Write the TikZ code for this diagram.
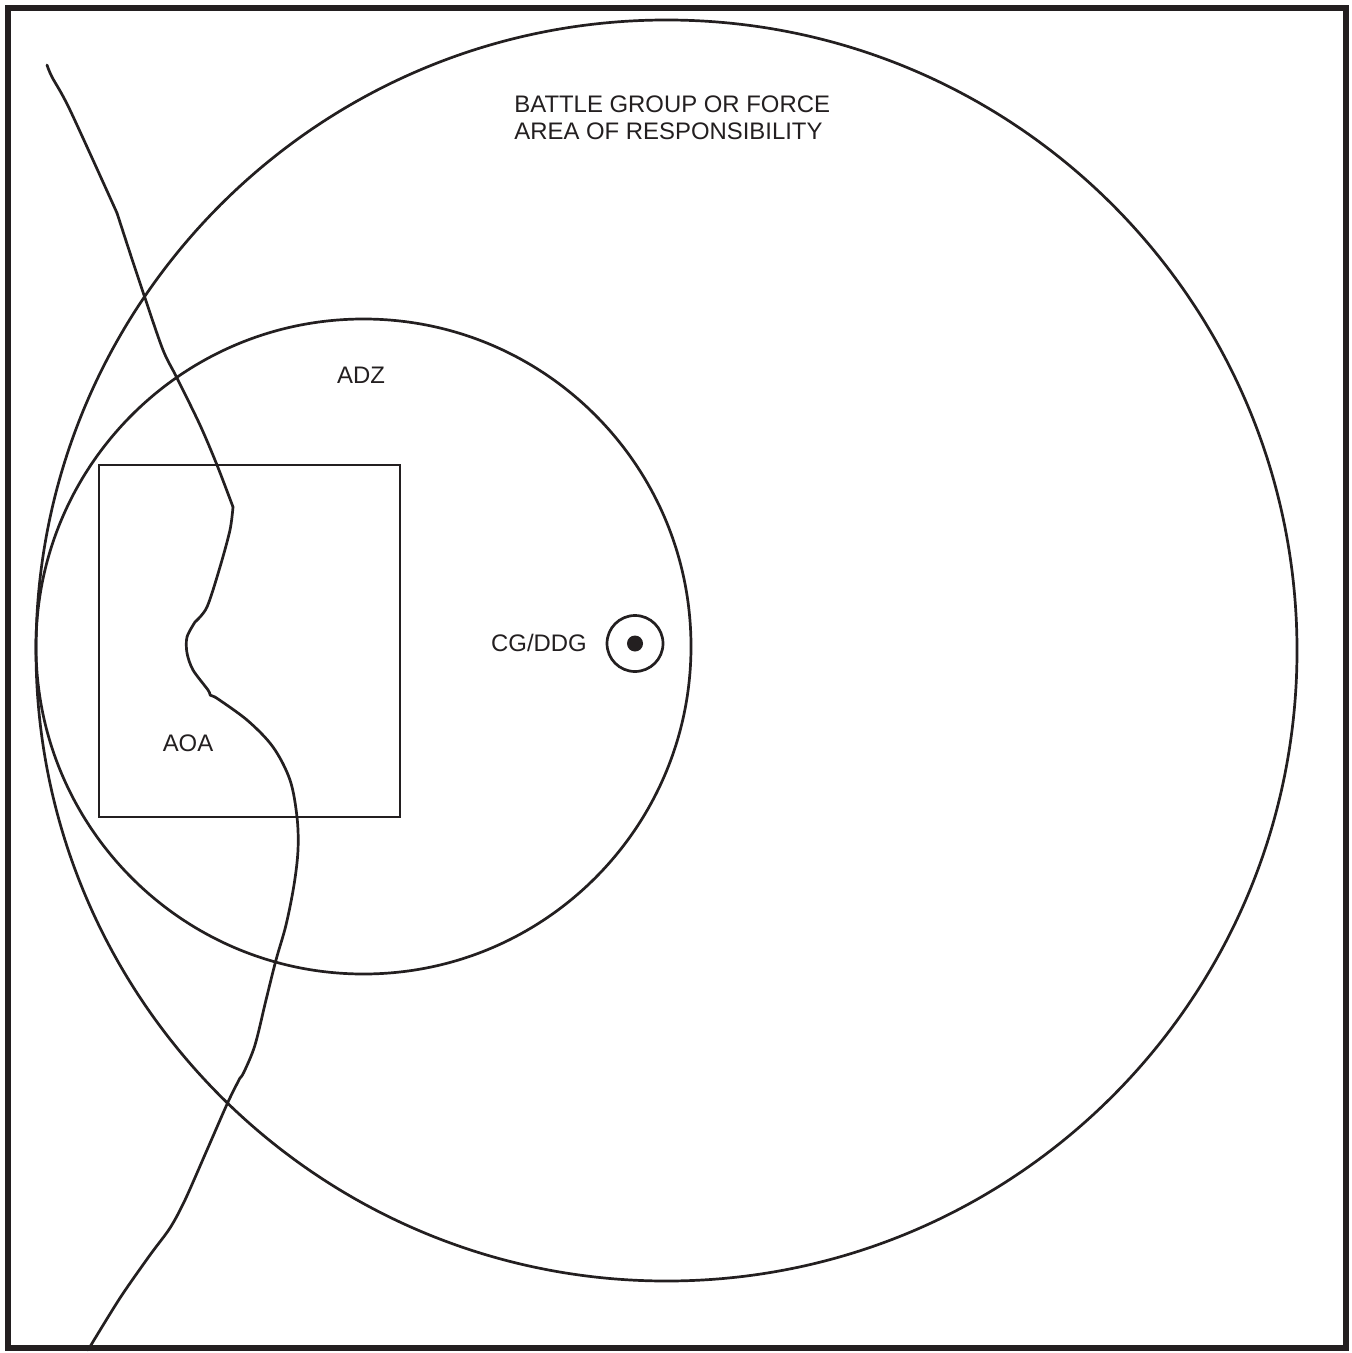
\documentclass[tikz,border=0pt]{standalone}
\usepackage{fontspec}
\setmainfont{Liberation Sans}
\definecolor{ink}{HTML}{231F20}
\begin{document}
\begin{tikzpicture}[x=0.5pt,y=-0.5pt,
  line/.style={draw=ink,line width=1.35pt},
  lbl/.style={inner sep=0pt,text=ink,font=\fontsize{11.95}{13.5}\selectfont},
  coast/.style={draw=ink,line width=1.35pt,line join=round,line cap=round}]
\useasboundingbox (0,0) rectangle (1351,1353);
\fill[white] (0,0) rectangle (1351,1353);
% frame
\draw[draw=ink,line width=2.6pt] (8,8) rectangle (1346,1348);
% circles
\draw[line] (666.5,650.5) circle[radius=630.5];
\draw[line] (363.5,646.5) circle[radius=327.5];
% AOA box
\draw[line] (99,465) rectangle (400,817);
% coastline
\draw[coast] plot[smooth,tension=0.5] coordinates {(47,65) (52,77) (70,110) (117,213)};
\draw[coast] plot[smooth,tension=0.5] coordinates {(117,213) (130,253) (145,298) (163,350) (177,378) (200,425) (217,465) (233,507)};
\draw[coast] plot[smooth,tension=0.5] coordinates {(233,507) (230,530) (220,567) (207,607) (195,622)};
\draw[coast] plot[smooth,tension=0.5] coordinates {(195,622) (187,637) (187,653) (193,670) (208,690) (210,695)};
\draw[coast] (210,695) -- (215,697);
\draw[coast] plot[smooth,tension=0.55] coordinates {(215,697) (247,720) (273,747) (290,780) (297,817) (298,850) (294,885) (286,925) (276,960) (266,1000) (255,1045) (244,1072) (240,1078)};
\draw[coast] plot[smooth,tension=0.5] coordinates {(240,1078) (228,1102) (207,1150) (185,1200) (170,1228) (150,1255) (120,1298) (88,1350)};
% ship symbol
\node[draw=ink,line width=1.35pt,circle,minimum size=28pt,inner sep=0pt] (ship) at (635,643.5) {};
\fill[ink] (ship.center) circle[radius=8];
% labels
\node[lbl,anchor=base west] (bg1) at (514,113) {BATTLE GROUP OR FORCE};
\node[lbl,anchor=base west] (bg2) at (514,140) {AREA OF RESPONSIBILITY};
\node[lbl] (adz) at (361,375) {ADZ};
\node[lbl] (aoa) at (188,743.5) {AOA};
\node[lbl] (cg) at (539,643) {CG/DDG};
\end{tikzpicture}
\end{document}
